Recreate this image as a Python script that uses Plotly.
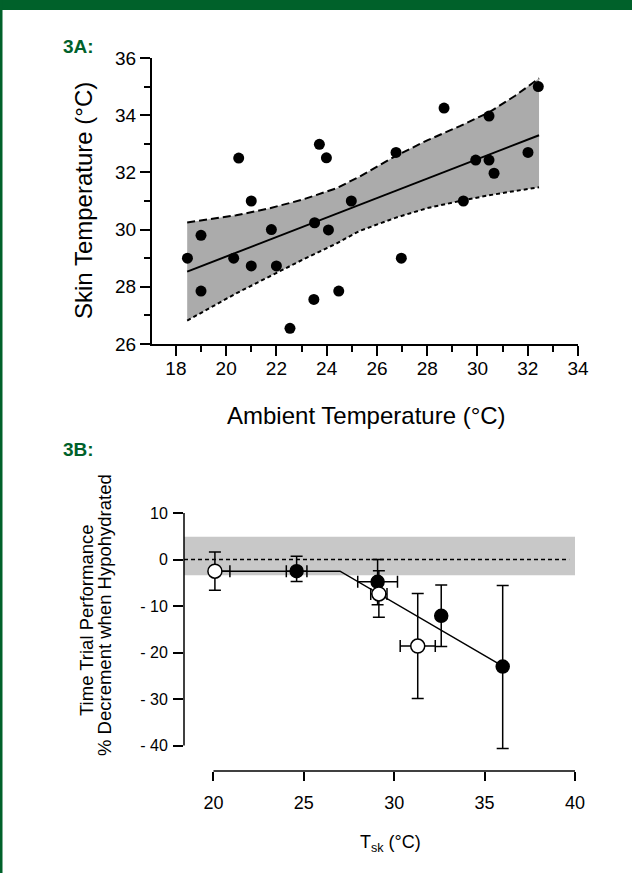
import plotly.graph_objects as go

W, H = 632, 873
FONT = "Liberation Sans, Arial, Helvetica, sans-serif"
GREEN = "#00612a"

# ---------------- Panel 3A data ----------------
amb_temp = [18.46, 19.0, 19.0, 20.3, 20.5, 21.0, 21.0, 21.8, 22.0, 22.54, 23.49, 23.52,
            23.71, 23.99, 24.07, 24.48, 24.98, 26.76, 26.97, 28.67, 29.44, 29.93,
            30.46, 30.46, 30.66, 32.01, 32.42]
skin_temp = [29.0, 29.8, 27.85, 29.0, 32.5, 31.0, 28.73, 30.0, 28.73, 26.55, 27.56, 30.24,
             32.98, 32.51, 29.99, 27.85, 31.0, 32.7, 29.0, 34.25, 31.0, 32.43,
             32.43, 33.97, 31.97, 32.7, 35.0]

fit_x = [18.45, 32.45]
fit_y = [28.53, 33.3]

band_x = [18.45, 20.4, 21.7, 23.05, 24.4, 25.3, 26.76, 28.0, 29.3, 30.46, 31.5, 32.45]
band_upper = [30.25, 30.5, 30.74, 31.05, 31.45, 31.85, 32.58, 33.12, 33.62, 34.1, 34.68, 35.29]
band_lower = [26.82, 27.77, 28.35, 28.95, 29.52, 29.95, 30.42, 30.75, 31.0, 31.2, 31.35, 31.48]

a_xticks = [18, 20, 22, 24, 26, 28, 30, 32, 34]
a_yticks = [26, 28, 30, 32, 34, 36]

# ---------------- Panel 3B data ----------------
filled_x = [24.6, 29.08, 32.6, 36.0]
filled_y = [-2.5, -4.8, -12.1, -23.0]
filled_y_plus = [3.2, 4.8, 6.6, 17.4]
filled_y_minus = [2.2, 4.9, 6.6, 17.6]
filled_x_err = [0.57, 1.1, 0.0, 0.0]

open_x = [20.08, 29.15, 31.3]
open_y = [-2.5, -7.4, -18.6]
open_y_err = [4.1, 5.0, 11.3]
open_x_plus = [0.83, 0.45, 0.97]
open_x_minus = [0.0, 0.45, 0.97]

model_x = [20.08, 27.0, 36.0]
model_y = [-2.5, -2.5, -22.9]

band_b = [-3.4, 4.9]

b_xticks = [20, 25, 30, 35, 40]
b_yticks = [10, 0, -10, -20, -30, -40]
b_yticktext = ["10", "0", "- 10", "- 20", "- 30", "- 40"]

fig = go.Figure()

# ---- 3A ----
fig.add_trace(go.Scatter(x=band_x, y=band_lower, mode="lines",
                         line=dict(color="black", width=2, dash="4px,3px"),
                         xaxis="x", yaxis="y", showlegend=False, hoverinfo="skip"))
fig.add_trace(go.Scatter(x=band_x, y=band_upper, mode="lines", fill="tonexty",
                         fillcolor="#ababab",
                         line=dict(color="black", width=2, dash="8px,4px"),
                         xaxis="x", yaxis="y", showlegend=False, hoverinfo="skip"))
fig.add_trace(go.Scatter(x=fit_x, y=fit_y, mode="lines",
                         line=dict(color="black", width=2),
                         xaxis="x", yaxis="y", showlegend=False))
fig.add_trace(go.Scatter(x=amb_temp, y=skin_temp, mode="markers",
                         marker=dict(color="black", size=11),
                         xaxis="x", yaxis="y", showlegend=False))

# ---- 3B ----
fig.add_trace(go.Scatter(x=model_x, y=model_y, mode="lines",
                         line=dict(color="black", width=1.5),
                         xaxis="x2", yaxis="y2", showlegend=False))
fig.add_trace(go.Scatter(x=filled_x, y=filled_y, mode="markers",
                         marker=dict(color="black", size=13, line=dict(color="black", width=1.5)),
                         error_y=dict(type="data", symmetric=False, array=filled_y_plus,
                                      arrayminus=filled_y_minus, color="black", thickness=1.5, width=6),
                         error_x=dict(type="data", array=filled_x_err, color="black",
                                      thickness=1.5, width=6),
                         xaxis="x2", yaxis="y2", showlegend=False))
fig.add_trace(go.Scatter(x=open_x, y=open_y, mode="markers",
                         marker=dict(color="white", size=14, line=dict(color="black", width=1.5)),
                         error_y=dict(type="data", array=open_y_err, color="black",
                                      thickness=1.5, width=6),
                         error_x=dict(type="data", symmetric=False, array=open_x_plus,
                                      arrayminus=open_x_minus, color="black", thickness=1.5, width=6),
                         xaxis="x2", yaxis="y2", showlegend=False))

axis_common = dict(showgrid=False, zeroline=False, ticks="outside", tickcolor="black",
                   linecolor="black", color="black", automargin=False)


def ann(text, px, py, size, angle=0, color="black", family=FONT):
    return dict(text=text, x=px / W, y=1 - py / H, xref="paper", yref="paper",
                xanchor="center", yanchor="middle", showarrow=False, textangle=angle,
                font=dict(size=size, color=color, family=family))


fig.update_layout(
    width=W, height=H, margin=dict(l=0, r=0, t=0, b=0, autoexpand=False),
    paper_bgcolor="white", plot_bgcolor="rgba(0,0,0,0)",
    font=dict(family=FONT, color="black"),
    xaxis=dict(**axis_common, domain=[152 / W, 578 / W], range=[17.05, 34],
               tickvals=a_xticks, ticklen=10, tickwidth=2, showline=True, linewidth=2,
               tickfont=dict(size=19), ticklabelstandoff=-4,
               minor=dict(dtick=1, tick0=17, ticks="outside", ticklen=6, tickwidth=2, tickcolor="black"),
               anchor="y"),
    yaxis=dict(**axis_common, domain=[1 - 344 / H, 1 - 58 / H], range=[26, 36],
               tickvals=a_yticks, ticklen=10, tickwidth=2, showline=True, linewidth=2,
               tickfont=dict(size=19), ticklabelstandoff=0,
               minor=dict(dtick=1, tick0=26, ticks="outside", ticklen=6, tickwidth=2, tickcolor="black"),
               anchor="x"),
    xaxis2=dict(**axis_common, domain=[184 / W, 575 / W], range=[18.37, 40],
                tickvals=b_xticks, ticklen=9, tickwidth=1.5, showline=False,
                tickfont=dict(size=18), ticklabelstandoff=6, anchor="y2"),
    yaxis2=dict(**axis_common, domain=[1 - 771 / H, 1 - 513 / H], range=[-45.46, 10],
                tickvals=b_yticks, ticktext=b_yticktext, ticklen=10, tickwidth=1.5, showline=False,
                tickfont=dict(size=16), ticklabelstandoff=2, anchor="x2"),
    shapes=[
        # green frame
        dict(type="rect", xref="paper", yref="paper", x0=0, x1=1, y0=1 - 10 / H, y1=1,
             fillcolor=GREEN, line=dict(width=0), layer="above"),
        dict(type="rect", xref="paper", yref="paper", x0=0, x1=2.5 / W, y0=0, y1=1,
             fillcolor=GREEN, line=dict(width=0), layer="above"),
        # 3B shaded band
        dict(type="rect", xref="x2 domain", yref="y2", x0=0, x1=1, y0=band_b[0], y1=band_b[1],
             fillcolor="#c8c8c8", line=dict(width=0), layer="below"),
        # 3B zero line
        dict(type="line", xref="x2 domain", yref="y2", x0=0, x1=0.985, y0=0, y1=0,
             line=dict(color="black", width=1.5, dash="4px,3px"), layer="below"),
        # 3B offset axis lines
        dict(type="line", xref="x2 domain", yref="y2", x0=0, x1=0, y0=b_yticks[-1], y1=b_yticks[0],
             line=dict(color="black", width=1.5)),
        dict(type="line", xref="x2", yref="y2 domain", x0=b_xticks[0], x1=b_xticks[-1], y0=0, y1=0,
             line=dict(color="black", width=1.5)),
    ],
    annotations=[
        ann("<b>3A:</b>", 78, 46, 19, color=GREEN, family="Liberation Sans Narrow, " + FONT),
        ann("<b>3B:</b>", 78, 450, 19, color=GREEN, family="Liberation Sans Narrow, " + FONT),
        ann("Skin Temperature (°C)", 84, 200, 24, angle=-90),
        ann("Ambient Temperature (°C)", 366, 415, 24),
        ann("Time Trial Performance", 86, 620, 18.5, angle=-90),
        ann("% Decrement when Hypohydrated", 104, 615, 18.5, angle=-90),
        ann("T<sub>sk</sub> (°C)", 390, 843, 18),
    ],
)

fig.write_html("out.html",
               config={"responsive": False, "displayModeBar": False},
               post_script="document.body.style.margin='0';document.body.style.padding='0';"
                           "document.body.style.overflow='hidden';")
